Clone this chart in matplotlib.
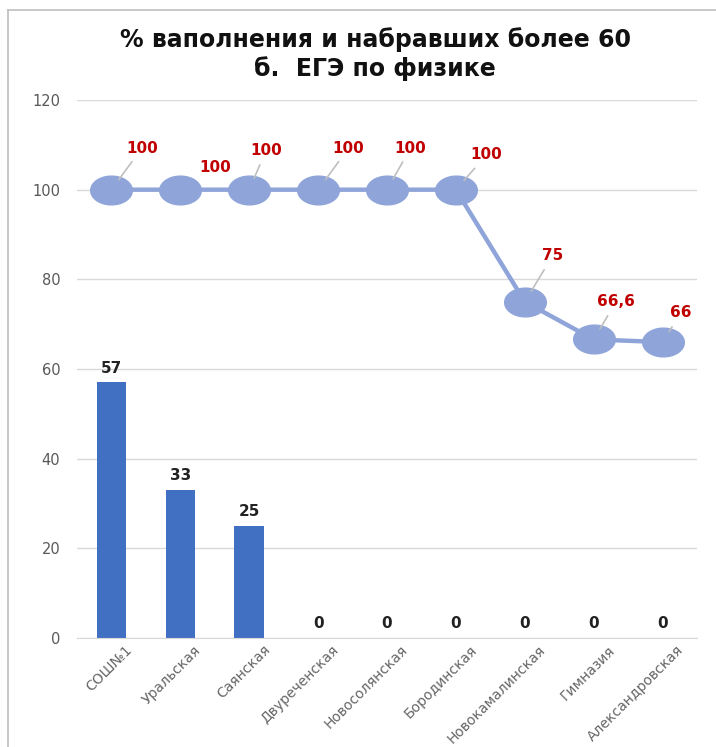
import matplotlib
matplotlib.use("Agg")
import matplotlib.pyplot as plt
from matplotlib.path import Path
from matplotlib.transforms import ScaledTranslation
import numpy as np

categories = ["СОШ№1", "Уральская", "Саянская", "Двуреченская", "Новосолянская",
              "Бородинская", "Новокамалинская", "Гимназия", "Александровская"]
pct_done = [100, 100, 100, 100, 100, 100, 75, 66.6, 66]
pct_labels = ["100", "100", "100", "100", "100", "100", "75", "66,6", "66"]
over60 = [57, 33, 25, 0, 0, 0, 0, 0, 0]
yticks = [0, 20, 40, 60, 80, 100, 120]

# label offsets in points (dx, dy) and whether a leader line is drawn
offsets = [(22, 30), (25, 16), (12, 28), (22, 30), (17, 30), (22, 25), (20, 33), (16, 27), (13, 21)]
leaders = [True, False, True, True, True, True, True, True, True]

plt.rcParams['font.family'] = ['DejaVu Sans']

fig = plt.figure(figsize=(7.16, 7.47), dpi=100)
ax = fig.add_axes([0.1075, 0.1459, 0.866, 0.7202])

x = np.arange(len(categories))
bars = ax.bar(x, over60, width=0.43, color="#4170C2", zorder=2)
for xi, v in zip(x, over60):
    ax.annotate(str(v), (xi, v), xytext=(0, 5), textcoords="offset points",
                ha="center", va="bottom", fontsize=11, fontweight="bold", color="#222222")

t = np.linspace(0, 2 * np.pi, 60)
ell = Path(np.column_stack([1.45 * np.cos(t), np.sin(t)]), closed=True)
ax.plot(x, pct_done, color="#8FA5D9", lw=3.2, marker=ell, markersize=30,
        markerfacecolor="#8FA5D9", markeredgecolor="#8FA5D9", zorder=3)

for xi, v, lab, (dx, dy), ld in zip(x, pct_done, pct_labels, offsets, leaders):
    ap = dict(arrowstyle="-", color="#BFBFBF", lw=1.2, shrinkA=3, shrinkB=9) if ld else None
    ax.annotate(lab, (xi, v), xytext=(dx, dy), textcoords="offset points",
                ha="center", va="center", fontsize=11, fontweight="bold",
                color="#C00000", arrowprops=ap, zorder=4)

ax.set_ylim(0, 120)
ax.set_xlim(-0.5, len(categories) - 0.5)
ax.set_yticks(yticks)
ax.yaxis.grid(True, color="#D9D9D9", lw=1)
ax.set_axisbelow(True)
for s in ["top", "right", "left"]:
    ax.spines[s].set_visible(False)
ax.spines["bottom"].set_color("#D9D9D9")
ax.tick_params(axis="both", length=0, colors="#595959", labelsize=10.5)
ax.tick_params(axis="y", pad=12)
ax.set_xticks(x)
ax.set_xticklabels(categories, rotation=45, ha="right", rotation_mode="anchor",
                   fontsize=10, color="#666666")
shift = ScaledTranslation(10 / 72, 0, fig.dpi_scale_trans)
for lbl in ax.get_xticklabels():
    lbl.set_transform(lbl.get_transform() + shift)

fig.text(0.524, 0.928, "% ваполнения и набравших более 60\nб.  ЕГЭ по физике",
         ha="center", va="center", fontsize=17, fontweight="bold", color="#111111",
         linespacing=1.2)

# outer frame lines
fig.add_artist(plt.Line2D([0.011, 1.0], [0.987, 0.987], color="#BFBFBF", lw=1.2))
fig.add_artist(plt.Line2D([0.011, 0.011], [0.0, 0.987], color="#BFBFBF", lw=1.2))

fig.savefig("out.png", dpi=100)
